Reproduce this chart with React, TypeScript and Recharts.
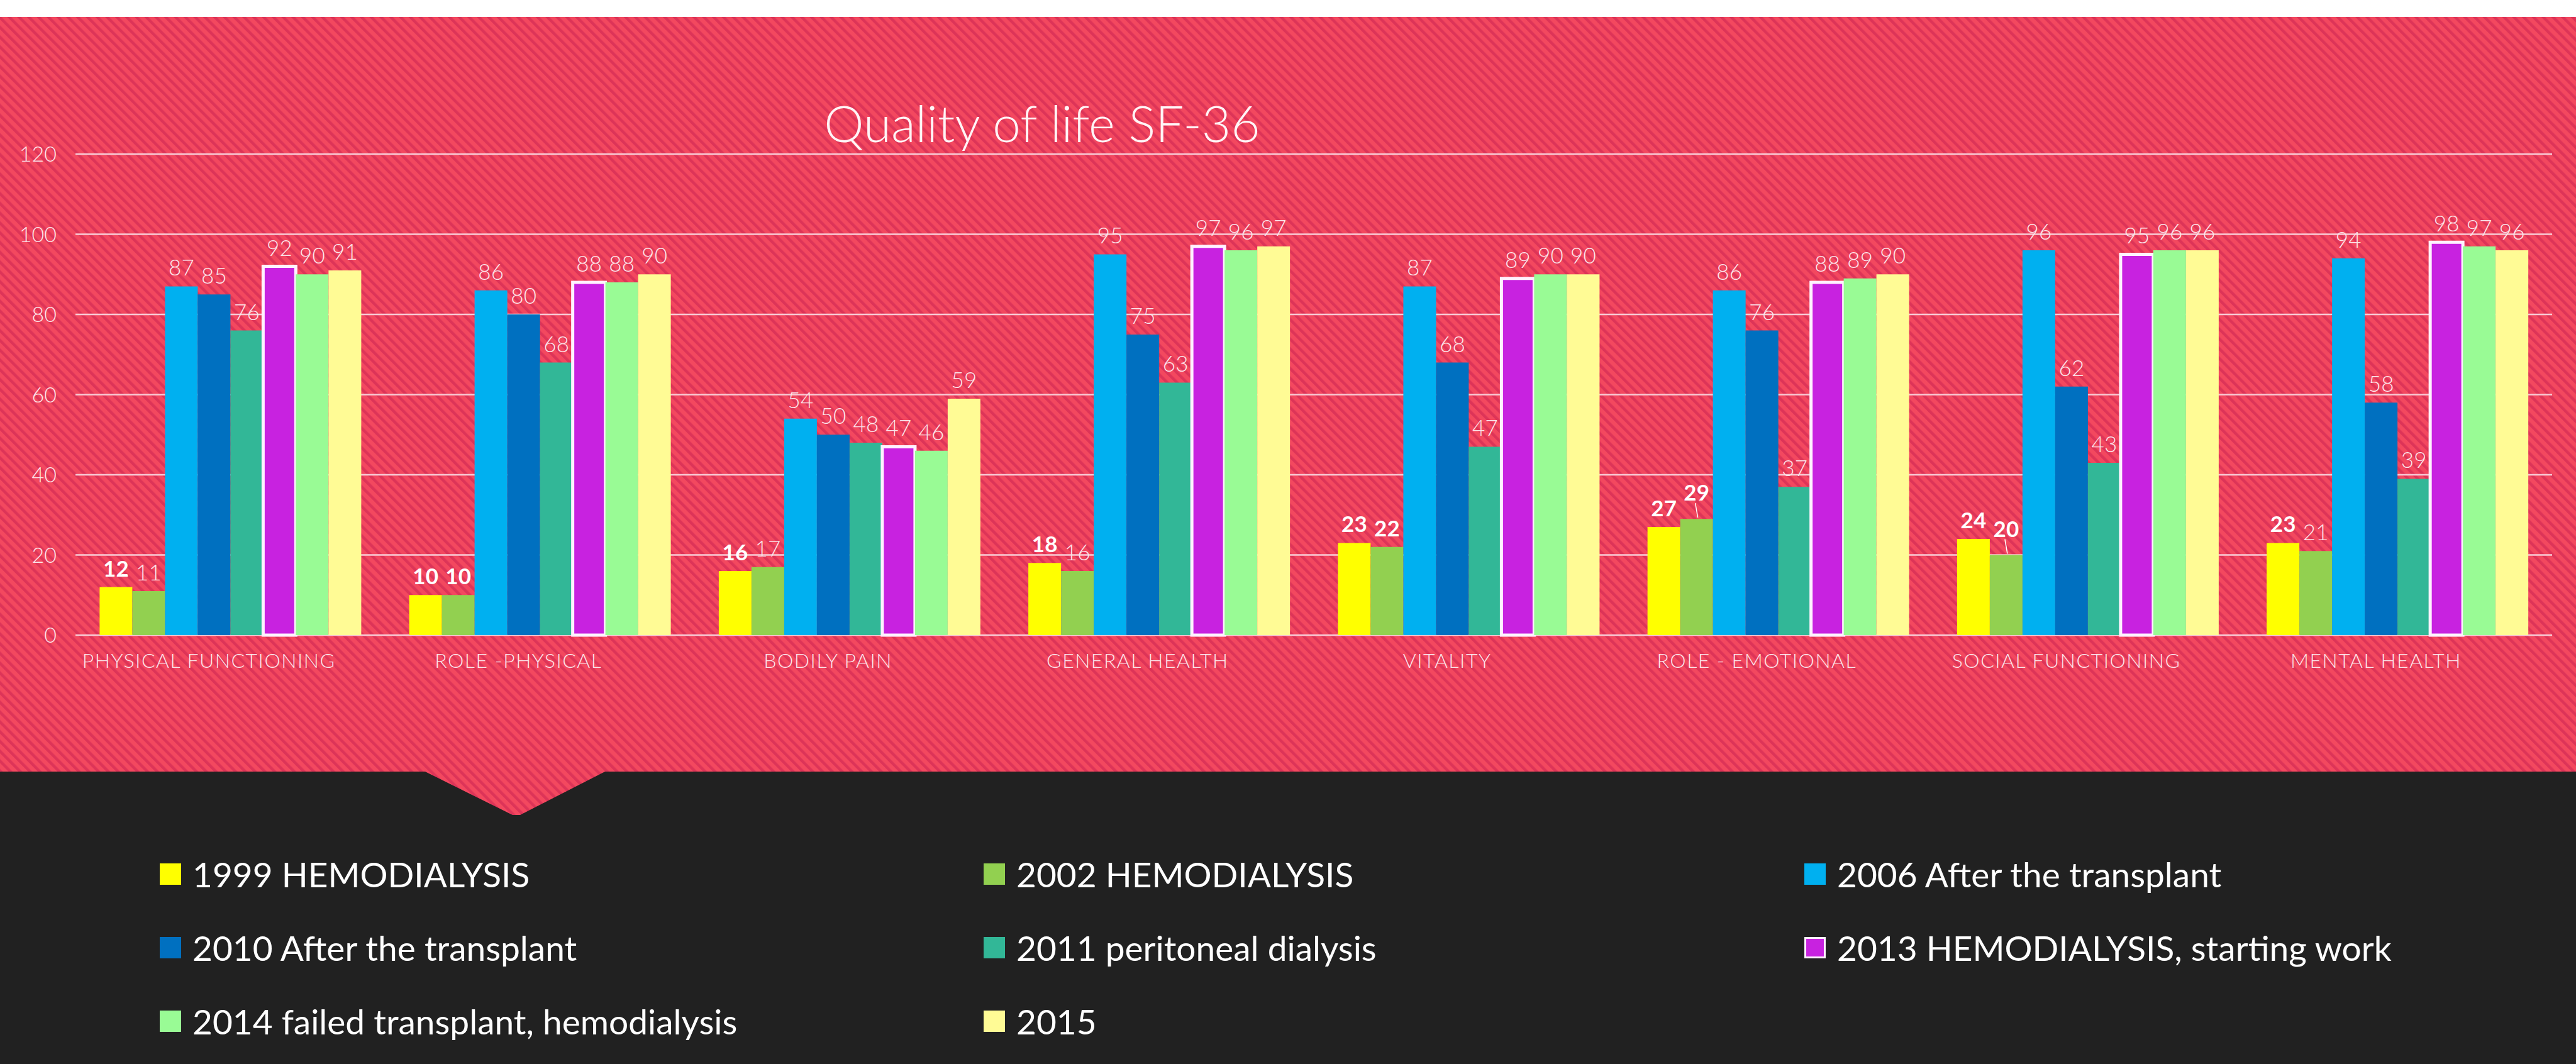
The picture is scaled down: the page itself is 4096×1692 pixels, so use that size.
import React from 'react';
import { BarChart, Bar, XAxis, YAxis, CartesianGrid, LabelList, Legend } from 'recharts';

// ---------- data ----------
const categories = [
  'PHYSICAL FUNCTIONING',
  'ROLE -PHYSICAL',
  'BODILY PAIN',
  'GENERAL HEALTH',
  'VITALITY',
  'ROLE - EMOTIONAL',
  'SOCIAL FUNCTIONING',
  'MENTAL HEALTH',
];
const hemo1999 = [12, 10, 16, 18, 23, 27, 24, 23];
const hemo2002 = [11, 10, 17, 16, 22, 29, 20, 21];
const transplant2006 = [87, 86, 54, 95, 87, 86, 96, 94];
const transplant2010 = [85, 80, 50, 75, 68, 76, 62, 58];
const peritoneal2011 = [76, 68, 48, 63, 47, 37, 43, 39];
const hemoWork2013 = [92, 88, 47, 97, 89, 88, 95, 98];
const failed2014 = [90, 88, 46, 96, 90, 89, 96, 97];
const year2015 = [91, 90, 59, 97, 90, 90, 96, 96];

const seriesNames = [
  '1999 HEMODIALYSIS',
  '2002 HEMODIALYSIS',
  '2006 After the transplant',
  '2010 After the transplant',
  '2011 peritoneal dialysis',
  '2013 HEMODIALYSIS, starting work',
  '2014 failed transplant, hemodialysis',
  '2015',
];
const yTicks = [0, 20, 40, 60, 80, 100, 120];
const chartTitle = 'Quality of life SF-36';

const seriesValues = [
  hemo1999,
  hemo2002,
  transplant2006,
  transplant2010,
  peritoneal2011,
  hemoWork2013,
  failed2014,
  year2015,
];

// ---------- styling ----------
const seriesStyle = [
  { color: '#FFFF00' },
  { color: '#92D050' },
  { color: '#00B0F0' },
  { color: '#0070C0' },
  { color: '#32B797' },
  { color: '#C822E0', stroke: '#FFF2FF' },
  { color: '#99FB95' },
  { color: '#FFFB95' },
];
// label weights / leaders (styling only)
const boldLabels: number[][] = [
  [0, 1, 2, 3, 4, 5, 6, 7],
  [1, 4, 5, 6],
  [], [], [], [], [], [],
];
const leaderLabels: number[][] = [[], [5, 6], [], [], [], [], [], []];

const keys = seriesNames.map((_, i) => `s${i}`);
const data = categories.map((c, ci) => {
  const row: Record<string, string | number> = { category: c };
  seriesValues.forEach((vals, si) => {
    row[keys[si]] = vals[ci];
  });
  return row;
});

const W = 4096;
const H = 1692;
const PLOT_L = 120;
const PLOT_R = 4058;
const PLOT_T = 245;
const PLOT_B = 1010;
const XAXIS_H = 70;
const FONT = 'Lato, "Open Sans", sans-serif';
const TEXT_PINK = '#FBE4EA';
const LABEL_OFFSET = 17;

const XTick = (props: any) => {
  const { x, y, payload } = props;
  return (
    <text
      x={x - 34}
      y={y + 52}
      textAnchor="middle"
      fill={TEXT_PINK}
      fontSize={32}
      letterSpacing={1.5}
      fontWeight={300}
      fontFamily={FONT}
    >
      {payload.value}
    </text>
  );
};

const YTick = (props: any) => {
  const { x, y, payload } = props;
  return (
    <text
      x={x}
      y={y}
      dy={12}
      textAnchor="end"
      fill={TEXT_PINK}
      fontSize={34}
      fontWeight={300}
      fontFamily={FONT}
    >
      {payload.value}
    </text>
  );
};

const makeLabel = (si: number) => (props: any) => {
  const { x, y, width, value, index } = props;
  const cx = Number(x) + Number(width) / 2;
  const top = Number(y);
  const bold = boldLabels[si].includes(index);
  const lift = leaderLabels[si].includes(index) ? 12 : 0;
  return (
    <g>
      {lift > 0 && (
        <line
          x1={cx + 2}
          y1={top - 2}
          x2={cx - 2}
          y2={top - LABEL_OFFSET - lift + 4}
          stroke="#FFFFFF"
          strokeWidth={1.5}
        />
      )}
      <text
        x={cx}
        y={top - LABEL_OFFSET - lift}
        textAnchor="middle"
        fill={bold ? '#FFFFFF' : TEXT_PINK}
        fontSize={35}
        fontWeight={bold ? 700 : 300}
        fontFamily={FONT}
      >
        {value}
      </text>
    </g>
  );
};

const legendColLeft = [254, 1564, 2869];
const LEGEND_ROW_STEP = 117;

const LegendContent = (props: any) => {
  const payload = props.payload || [];
  return (
    <div style={{ position: 'relative', width: W, height: 360 }}>
      {payload.map((p: any, i: number) => {
        const idx = seriesNames.indexOf(p.value);
        const si = idx >= 0 ? idx : i;
        const st = seriesStyle[si];
        const col = si % 3;
        const row = Math.floor(si / 3);
        return (
          <div
            key={si}
            style={{
              position: 'absolute',
              left: legendColLeft[col],
              top: row * LEGEND_ROW_STEP,
              height: 60,
              display: 'flex',
              alignItems: 'center',
              whiteSpace: 'nowrap',
            }}
          >
            <div
              style={{
                width: st.stroke ? 28 : 34,
                height: st.stroke ? 28 : 34,
                background: st.color,
                border: st.stroke ? `3px solid ${st.stroke}` : 'none',
                marginRight: 18,
              }}
            />
            <span
              style={{
                color: '#FFFFFF',
                fontFamily: FONT,
                fontSize: 55,
                lineHeight: '60px',
              }}
            >
              {p.value}
            </span>
          </div>
        );
      })}
    </div>
  );
};

export default function App() {
  return (
    <div style={{ position: 'absolute', left: 0, top: 0, width: W, height: H, overflow: 'hidden', background: '#FFFFFF' }}>
      <svg width={W} height={H} style={{ position: 'absolute', left: 0, top: 0 }}>
        <defs>
          <pattern id="stripes" patternUnits="userSpaceOnUse" width={11} height={11} patternTransform="rotate(-45)">
            <rect x={0} y={0} width={11} height={11} fill="#F3485F" />
            <rect x={0} y={0} width={4.5} height={11} fill="#DD3458" />
          </pattern>
        </defs>
        <rect x={0} y={0} width={W} height={H} fill="#FFFFFF" />
        <rect x={0} y={1227} width={W} height={H - 1227} fill="#212121" />
        <polygon
          points={`0,27 ${W},27 ${W},1227 962,1227 827,1296 815,1296 676,1227 0,1227`}
          fill="url(#stripes)"
        />
        <text
          x={1657}
          y={226}
          textAnchor="middle"
          fill="#FFF4F6"
          fontSize={80}
          fontWeight={300}
          fontFamily={FONT}
        >
          {chartTitle}
        </text>
      </svg>
      <div style={{ position: 'absolute', left: 0, top: 0 }}>
        <BarChart
          width={W}
          height={H}
          data={data}
          margin={{ top: PLOT_T, right: W - PLOT_R, left: 0, bottom: H - PLOT_B - XAXIS_H }}
          barGap={0}
          barCategoryGap="7.8%"
        >
          <CartesianGrid horizontal vertical={false} stroke="#F8CBD5" strokeWidth={2.5} />
          <XAxis
            dataKey="category"
            height={XAXIS_H}
            axisLine={false}
            tickLine={false}
            tickSize={0}
            tickMargin={0}
            interval={0}
            tick={<XTick />}
          />
          <YAxis
            width={PLOT_L}
            domain={[0, 120]}
            ticks={yTicks}
            axisLine={false}
            tickLine={false}
            tickSize={0}
            tickMargin={30}
            tick={<YTick />}
          />
          <Legend
            layout="horizontal"
            verticalAlign="middle"
            align="center"
            wrapperStyle={{ left: 0, top: 1360, width: W, height: 360 }}
            content={<LegendContent />}
          />
          {keys.map((k, si) => (
            <Bar
              key={k}
              dataKey={k}
              name={seriesNames[si]}
              fill={seriesStyle[si].color}
              stroke={seriesStyle[si].stroke}
              strokeWidth={seriesStyle[si].stroke ? 5 : 0}
              isAnimationActive={false}
            >
              <LabelList dataKey={k} content={makeLabel(si)} />
            </Bar>
          ))}
        </BarChart>
      </div>
    </div>
  );
}
